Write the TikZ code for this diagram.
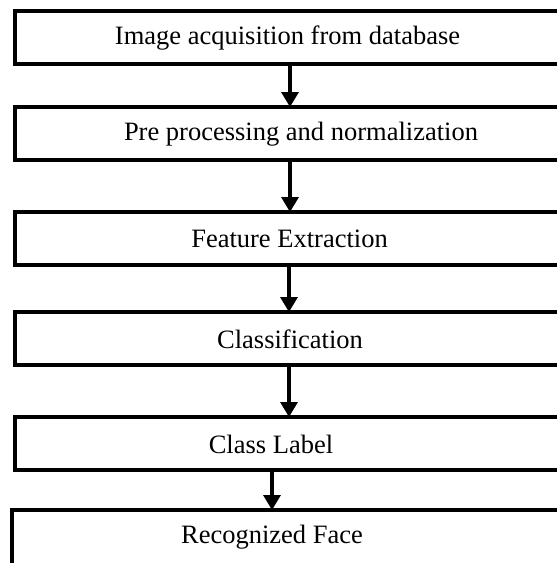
\documentclass[tikz,border=0pt]{standalone}
\usepackage{fontspec}
\setmainfont{Liberation Serif}
\usetikzlibrary{arrows.meta}
\tikzset{
  stagebox/.style={draw=black, line width=3.6pt, rectangle, inner sep=0pt, outer sep=0pt,
    anchor=north west, minimum width=547pt, minimum height=53pt},
  stagetext/.style={inner sep=0pt, font=\fontsize{26.5}{30}\selectfont},
  flowarrow/.style={line width=3.4pt, -{Triangle[width=17pt,length=15pt]}}
}
\begin{document}
\begin{tikzpicture}[x=1pt,y=-1pt]
\useasboundingbox (0,0) rectangle (557,563);
\clip (0,0) rectangle (557,563);
\node[stagebox] (b1) at (15,11) {};
\node[stagebox] (b2) at (15,107) {};
\node[stagebox] (b3) at (15,212) {};
\node[stagebox] (b4) at (15,312) {};
\node[stagebox] (b5) at (15,417) {};
\node[stagebox, minimum width=560pt, minimum height=90pt] (b6) at (12,510) {};
\node[stagetext] (t1) at (287.5,38) {Image acquisition from database};
\node[stagetext] (t2) at (301,134) {Pre processing and normalization};
\node[stagetext] (t3) at (289.5,239) {Feature Extraction};
\node[stagetext] (t4) at (290,339) {Classification};
\node[stagetext] (t5) at (271,444) {Class Label};
\node[stagetext] (t6) at (272,537) {Recognized Face};
\draw[flowarrow] (b1.south -| 290,0) -- (b2.north -| 290,0);
\draw[flowarrow] (b2.south -| 290,0) -- (b3.north -| 290,0);
\draw[flowarrow] (b3.south -| 289,0) -- (b4.north -| 289,0);
\draw[flowarrow] (b4.south -| 289,0) -- (b5.north -| 289,0);
\draw[flowarrow] (b5.south -| 272,0) -- (b6.north -| 272,0);
\end{tikzpicture}
\end{document}
